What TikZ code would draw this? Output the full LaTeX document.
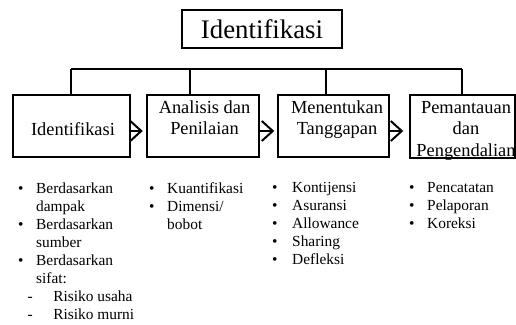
\documentclass[tikz,border=0pt]{standalone}
\usepackage{fontspec}
\setmainfont{Liberation Serif}
\usetikzlibrary{arrows.meta}
\begin{document}
\begin{tikzpicture}[x=1pt,y=-1pt,
  box/.style={draw, line width=1.5pt, inner sep=0pt},
  boxtext/.style={inner sep=0pt, anchor=base, font=\fontsize{18.4}{21.5}\selectfont},
  listtext/.style={inner sep=0pt, anchor=base west, font=\fontsize{15.4}{18}\selectfont},
  bus/.style={line width=1.5pt},
  arr/.style={line width=1.6pt, -{Straight Barb[length=11pt,width=20pt,line width=2pt]}}
]
\useasboundingbox (0,0) rectangle (516,324);
% title
\node[box, minimum width=160pt, minimum height=38pt, font=\fontsize{26.8}{30}\selectfont] (title) at (262,29) {Identifikasi};
% boxes
\node[box, minimum width=117pt, minimum height=62pt] (b1) at (71.5,126) {};
\node[box, minimum width=112pt, minimum height=62pt] (b2) at (203,126) {};
\node[box, minimum width=111pt, minimum height=62pt] (b3) at (333.5,126) {};
\node[box, minimum width=105pt, minimum height=63pt] (b4) at (462.5,126.5) {};
% box texts
\node[boxtext] (t1) at (73,135) {Identifikasi};
\node[boxtext] (t2) at (204.5,113) {\begin{tabular}[t]{@{}c@{}}Analisis dan\\Penilaian\end{tabular}};
\node[boxtext] (t3) at (337,113) {\begin{tabular}[t]{@{}c@{}}Menentukan\\Tanggapan\end{tabular}};
\node[boxtext] (t4) at (466,113) {\begin{tabular}[t]{@{}c@{}}Pemantauan\\dan\\Pengendalian\end{tabular}};
% bus
\coordinate (j1) at (71,69);
\coordinate (j2) at (190,69);
\coordinate (j3) at (326,69);
\coordinate (j4) at (462,69);
\draw[bus] (j1) -- (j4);
\draw[bus] (j1) -- (j1 |- b1.north);
\draw[bus] (j2) -- (j2 |- b2.north);
\draw[bus] (j3) -- (j3 |- b3.north);
\draw[bus] (j4) -- (j4 |- b4.north);
% arrows
\coordinate (ay) at (0,131);
\draw[arr, shorten >=3.5pt] (b1.east |- ay) -- (b2.west |- ay);
\draw[arr, shorten >=3pt] (b2.east |- ay) -- (b3.west |- ay);
\draw[arr, shorten >=6pt, shorten <=-2pt] (b3.east |- ay) -- (b4.west |- ay);
% lists
\node[listtext] (l1) at (18,193) {\begin{tabular}[t]{@{}p{18pt}@{}l@{}}
\textbullet & Berdasarkan\\
 & dampak\\
\textbullet & Berdasarkan\\
 & sumber\\
\textbullet & Berdasarkan\\
 & sifat:\\
\multicolumn{2}{@{}l@{}}{\hspace{9.5pt}-\hspace{20.5pt}Risiko usaha}\\
\multicolumn{2}{@{}l@{}}{\hspace{9.5pt}-\hspace{20.5pt}Risiko murni}
\end{tabular}};
\node[listtext] (l2) at (149,193) {\begin{tabular}[t]{@{}p{18pt}@{}l@{}}
\textbullet & Kuantifikasi\\
\textbullet & Dimensi/\\
 & bobot
\end{tabular}};
\node[listtext] (l3) at (272,192) {\begin{tabular}[t]{@{}p{20pt}@{}l@{}}
\textbullet & Kontijensi\\
\textbullet & Asuransi\\
\textbullet & Allowance\\
\textbullet & Sharing\\
\textbullet & Defleksi
\end{tabular}};
\node[listtext] (l4) at (409,192) {\begin{tabular}[t]{@{}p{18pt}@{}l@{}}
\textbullet & Pencatatan\\
\textbullet & Pelaporan\\
\textbullet & Koreksi
\end{tabular}};
\end{tikzpicture}
\end{document}
